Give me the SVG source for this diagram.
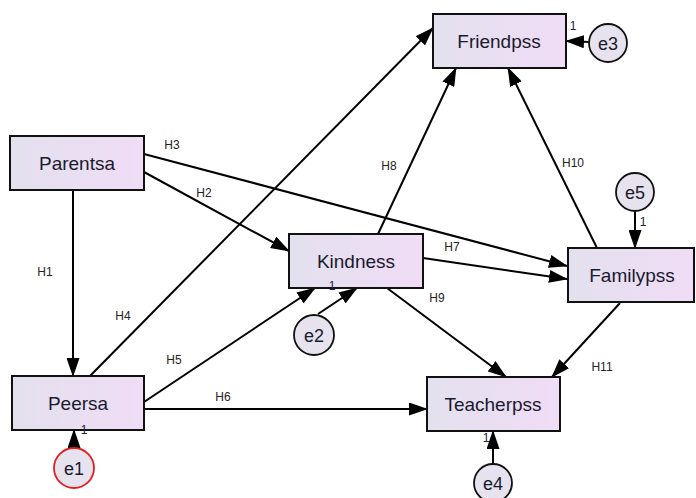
<svg xmlns="http://www.w3.org/2000/svg" width="696" height="498" viewBox="0 0 696 498">
<defs>
<linearGradient id="g" x1="0" y1="0" x2="1" y2="0">
<stop offset="0" stop-color="#e3e1ee"/>
<stop offset="1" stop-color="#f0dcf6"/>
</linearGradient>
<marker id="ah" markerUnits="userSpaceOnUse" markerWidth="19" markerHeight="13" viewBox="0 0 19 13" refX="18" refY="6.5" orient="auto">
<path d="M0,0 L19,6.5 L0,13 Z" fill="#000"/>
</marker>
</defs>
<style>
.box{fill:url(#g);stroke:#111;stroke-width:2}
.err{fill:#e6e2ee;stroke:#111;stroke-width:1.8}
.nl{font-family:"Liberation Sans",Arial,sans-serif;font-size:19px;fill:#1a1a2e;text-anchor:middle}
.el{font-family:"Liberation Sans",Arial,sans-serif;font-size:18px;fill:#1a1a2e;text-anchor:middle}
.hl{font-family:"Liberation Sans",Arial,sans-serif;font-size:12px;fill:#222;text-anchor:middle}
.one{font-family:"Liberation Sans",Arial,sans-serif;font-size:12px;fill:#222240;text-anchor:middle}
.c{stroke:#000;stroke-width:2;fill:none;marker-end:url(#ah)}
</style>
<rect width="696" height="498" fill="#fff"/>
<g id="connectors">
<line class="c" x1="73" y1="190" x2="73" y2="376"/>
<line class="c" x1="144" y1="172" x2="289" y2="251"/>
<line class="c" x1="144" y1="154" x2="567" y2="266"/>
<line class="c" x1="90" y1="376" x2="433" y2="28"/>
<line class="c" x1="144" y1="402" x2="315" y2="288"/>
<line class="c" x1="144" y1="409" x2="427" y2="409"/>
<line class="c" x1="423" y1="258" x2="567" y2="279"/>
<line class="c" x1="378" y1="234" x2="456" y2="68"/>
<line class="c" x1="597" y1="248" x2="508" y2="68"/>
<line class="c" x1="387" y1="288" x2="506" y2="377"/>
<line class="c" x1="620" y1="303" x2="552" y2="377"/>
<line class="c" x1="74" y1="448" x2="74" y2="430"/>
<line class="c" x1="318" y1="314" x2="357" y2="288"/>
<line class="c" x1="589" y1="42" x2="566" y2="41"/>
<line class="c" x1="493" y1="464" x2="493" y2="431"/>
<line class="c" x1="635" y1="211" x2="635" y2="248"/>
<text class="hl" x="172" y="149">H3</text>
<text class="hl" x="204" y="197">H2</text>
<text class="hl" x="45" y="276">H1</text>
<text class="hl" x="123" y="320">H4</text>
<text class="hl" x="174" y="364">H5</text>
<text class="hl" x="223" y="401">H6</text>
<text class="hl" x="389" y="170">H8</text>
<text class="hl" x="573" y="167">H10</text>
<text class="hl" x="452" y="251">H7</text>
<text class="hl" x="437" y="302">H9</text>
<text class="hl" x="602" y="371">H11</text>
</g>
<g id="Parentsa"><rect class="box" x="10" y="136" width="134" height="54"/><text class="nl" x="77" y="170">Parentsa</text></g>
<g id="Friendpss"><rect class="box" x="433" y="14" width="133" height="54"/><text class="nl" x="499" y="48">Friendpss</text></g>
<g id="Kindness"><rect class="box" x="289" y="234" width="134" height="54"/><text class="nl" x="356" y="268">Kindness</text></g>
<g id="Familypss"><rect class="box" x="568" y="248" width="126" height="54"/><text class="nl" x="632" y="282">Familypss</text></g>
<g id="Peersa"><rect class="box" x="12" y="376" width="132" height="54"/><text class="nl" x="78" y="410">Peersa</text></g>
<g id="Teacherpss"><rect class="box" x="427" y="377" width="133" height="54"/><text class="nl" x="493" y="411">Teacherpss</text></g>
<g id="e1"><circle class="err" cx="74" cy="468" r="20" style="stroke:#e02020"/><text class="el" x="74" y="475">e1</text></g>
<g id="e2"><circle class="err" cx="314" cy="335" r="20"/><text class="el" x="314" y="342">e2</text></g>
<g id="e3"><circle class="err" cx="608" cy="43" r="19"/><text class="el" x="608" y="50">e3</text></g>
<g id="e4"><circle class="err" cx="493" cy="483" r="19"/><text class="el" x="493" y="490">e4</text></g>
<g id="e5"><circle class="err" cx="635" cy="192" r="19"/><text class="el" x="635" y="199">e5</text></g>
<g id="weights">
<text class="one" x="573" y="30">1</text>
<text class="one" x="332" y="290">1</text>
<text class="one" x="84" y="434">1</text>
<text class="one" x="486" y="442">1</text>
<text class="one" x="643" y="226">1</text>
</g>
</svg>
